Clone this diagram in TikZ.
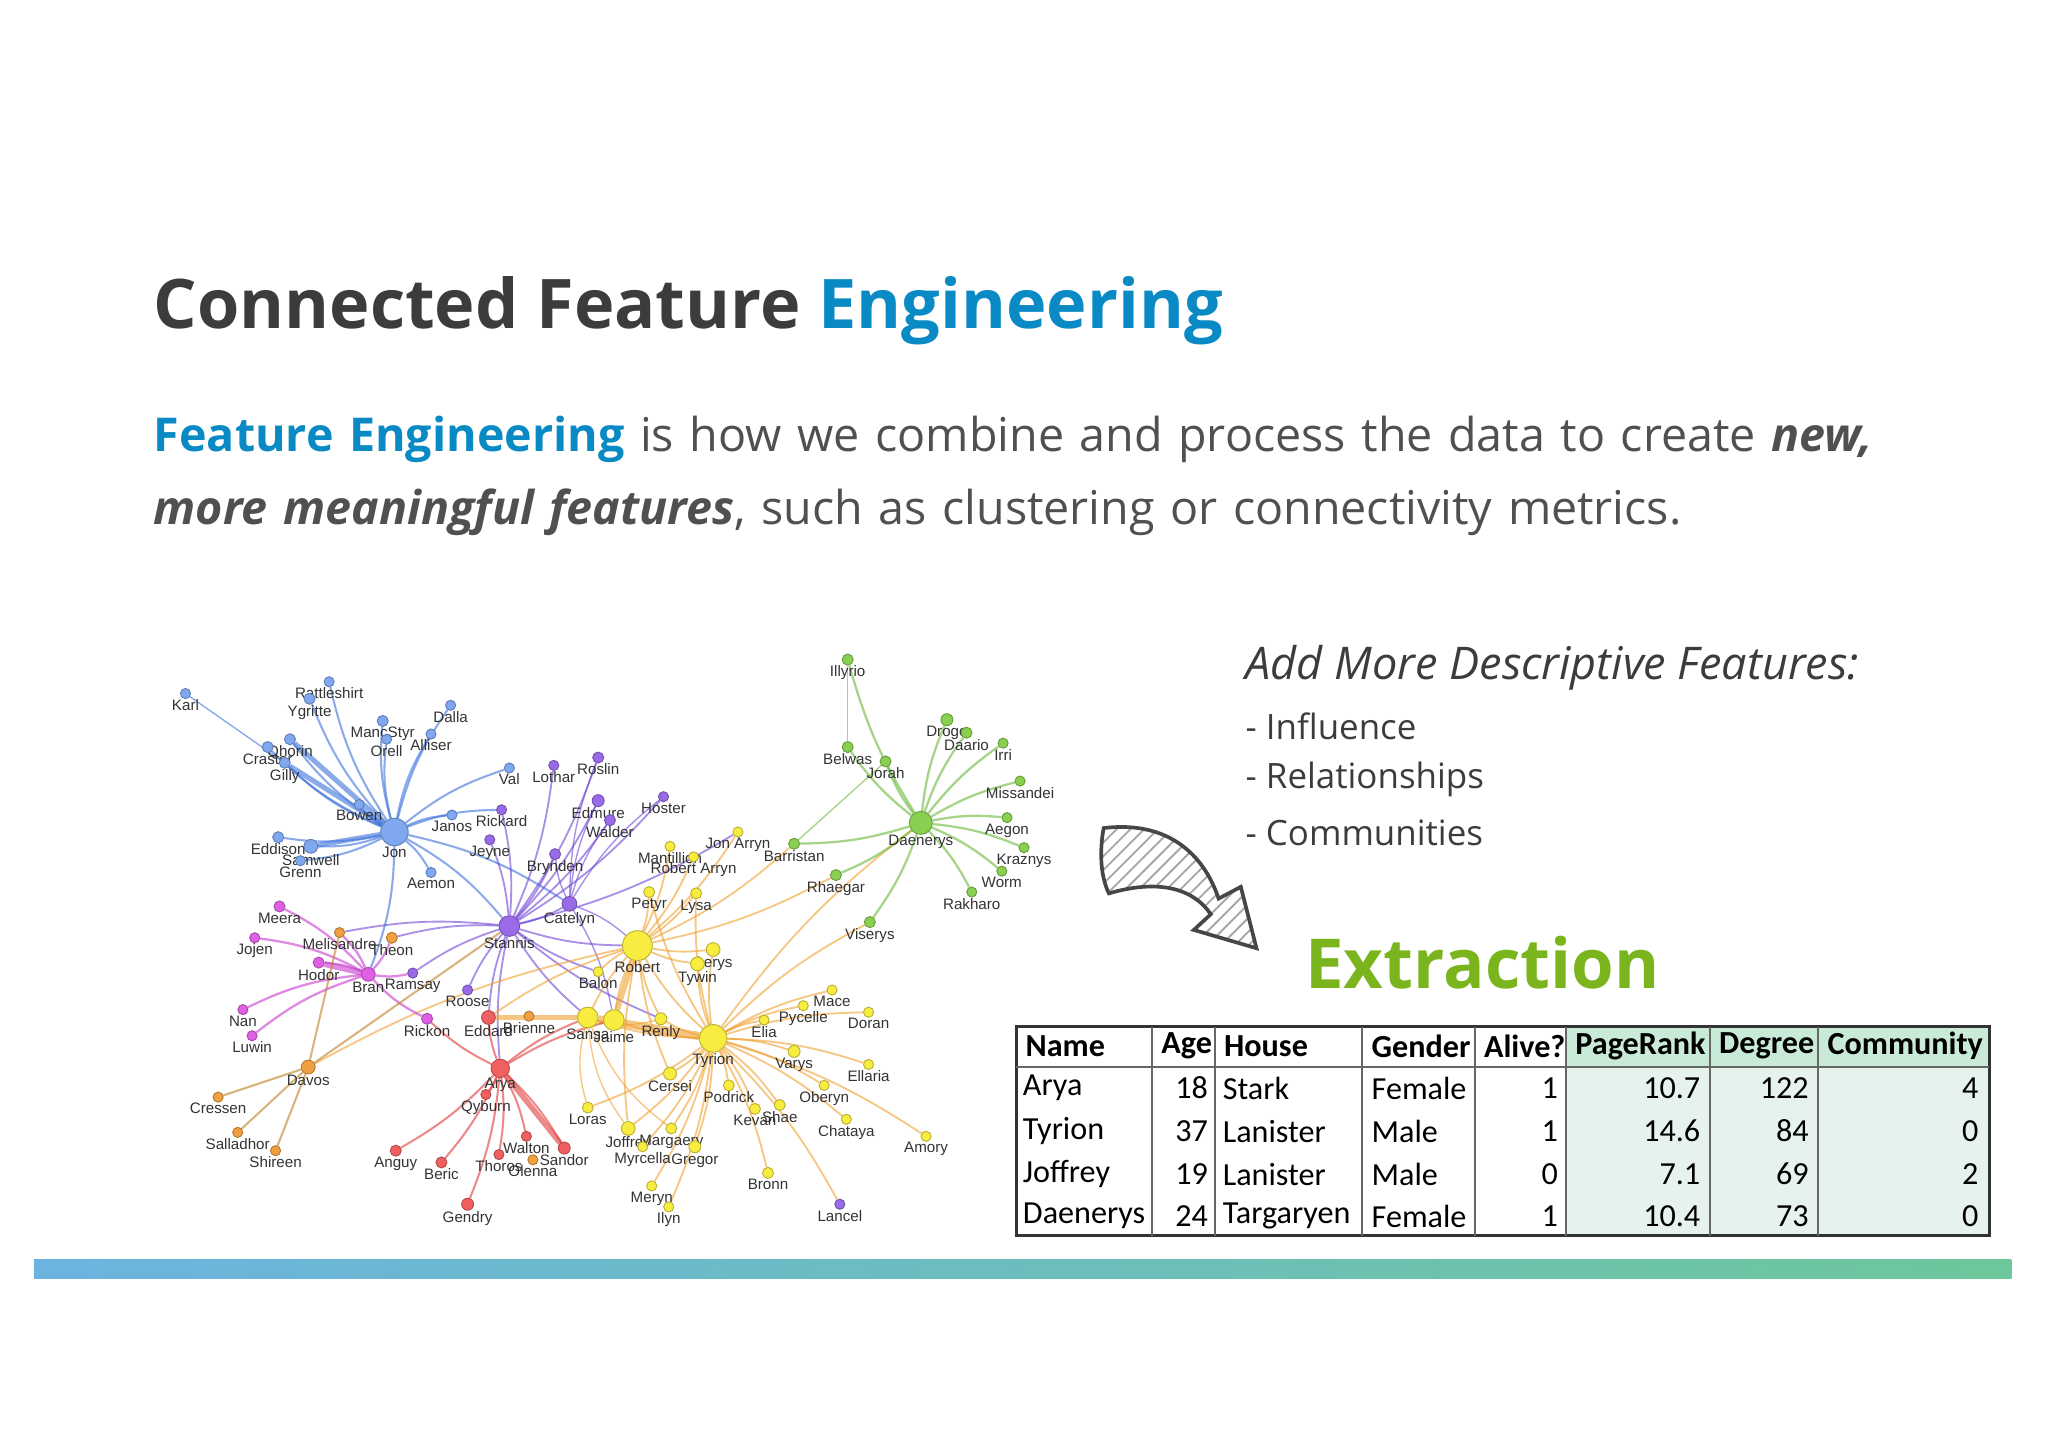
\documentclass[tikz,border=0pt]{standalone}
\usepackage{fontspec}
\setmainfont{Open Sans}
\newfontfamily\lblfont{Liberation Sans}
\newfontfamily\calfont{Carlito}
\usetikzlibrary{patterns}
\pgfdeclarelayer{bg}\pgfsetlayers{bg,main}
\definecolor{ttl}{HTML}{3C3C3C}
\definecolor{tblue}{HTML}{0A8AC4}
\definecolor{xgreen}{HTML}{7AB51D}
\definecolor{nB}{HTML}{7FA8F0}\definecolor{eB}{HTML}{3E72DC}
\definecolor{nP}{HTML}{9A6BE8}\definecolor{eP}{HTML}{7044D6}
\definecolor{nM}{HTML}{E060E4}\definecolor{eM}{HTML}{C83CD0}
\definecolor{nR}{HTML}{F06060}\definecolor{eR}{HTML}{E03A3A}
\definecolor{nO}{HTML}{F0A040}\definecolor{eO}{HTML}{F0A030}
\definecolor{nY}{HTML}{F8EC40}
\definecolor{nG}{HTML}{8AD050}\definecolor{eG}{HTML}{6AB838}
\definecolor{mint}{HTML}{E6F3EC}\definecolor{mintH}{HTML}{C8EAD6}
\definecolor{barL}{HTML}{6BB4E0}\definecolor{barR}{HTML}{6CC79A}
\tikzset{
 nd/.style={circle,inner sep=0pt,minimum size=#1},
 lbl/.style={font=\lblfont\fontsize{3.3}{4}\selectfont,inner sep=0.5pt,text=black!80},
 ed/.style={draw=#1,opacity=0.6,line width=0.3pt},
 cell/.style={font=\calfont\fontsize{7}{8}\selectfont,inner sep=1pt},
 hcell/.style={font=\calfont\bfseries\fontsize{7}{8}\selectfont,inner sep=1pt},
 feat/.style={font=\fontsize{7.6}{9}\selectfont,text=ttl,anchor=west,inner sep=0pt}
}
\begin{document}
\begin{tikzpicture}[x=0.01cm,y=-0.01cm]
\useasboundingbox (0,0) rectangle (1568,1110);
% title
\node[anchor=west,inner sep=0pt,font=\bfseries\fontsize{14.9}{17}\selectfont] (title) at (117,238) {\textcolor{ttl}{Connected Feature} \textcolor{tblue}{Engineering}};
\node[anchor=north west,inner sep=0pt,text width=14cm,font=\fontsize{10.15}{15.8}\selectfont,text=ttl!90] (body) at (117,318)
 {\textcolor{tblue}{\bfseries Feature Engineering} is how we combine and process the data to create \textbf{\itshape new,}\\ \textbf{\itshape more meaningful features}, such as clustering or connectivity metrics.\par};
% features
\node[feat,font=\itshape\fontsize{9.8}{11}\selectfont] (addf) at (953,511) {Add More Descriptive Features:};
\node[feat] (f1) at (953,556) {- Influence};
\node[feat] (f2) at (953,597) {- Relationships};
\node[feat] (f3) at (953,638) {- Communities};
\node[font=\bfseries\fontsize{15}{18}\selectfont,text=xgreen,inner sep=0pt] (extr) at (1135,737) {Extraction};
% arrow
\path[pattern=north east lines,pattern color=gray!70,draw=gray!55!black,line width=0.8pt]
 (845,634) .. controls (895,628) and (922,655) .. (933,688) -- (950,679) -- (962,726) -- (914,712) -- (927,700)
 .. controls (915,682) and (890,672) .. (849,684) .. controls (842,670) and (842,650) .. (845,634) -- cycle;
% network nodes
\foreach \id/\x/\y/\c/\s/\t in {
Karl/142/531/nB/2.2pt/Karl, Rattleshirt/252/522/nB/2.2pt/Rattleshirt, Ygritte/237/535/nB/2.4pt/Ygritte,
Dalla/345/540/nB/2.2pt/Dalla, MancStyr/293/552/nB/2.4pt/MancStyr, Qhorin/222/566/nB/2.4pt/Qhorin,
Allister/330/562/nB/2.2pt/Alliser, Craster/205/572/nB/2.4pt/Craster, Orell/296/566/nB/2.2pt/Orell,
Gilly/218/584/nB/2.4pt/Gilly, Val/390/588/nB/2.2pt/Val, Bowen/275/616/nB/2.2pt/Bowen,
Jon/302/637/nB/6pt/Jon, Eddison/213/641/nB/2.4pt/Eddison, Samwell/238/648/nB/3pt/Samwell,
Grenn/230/659/nB/2.2pt/Grenn, Aemon/330/668/nB/2.2pt/Aemon, Janos/346/624/nB/2.2pt/Janos,
Roslin/458/580/nP/2.4pt/Roslin, Lothar/424/586/nP/2.2pt/Lothar, Edmure/458/613/nP/2.6pt/Edmure,
Hoster/508/610/nP/2.2pt/Hoster, Rickard/384/620/nP/2.2pt/Rickard, Walder/467/628/nP/2.4pt/Walder,
Jeyne/375/643/nP/2.2pt/Jeyne, Brynden/425/654/nP/2.4pt/Brynden, Catelyn/436/692/nP/3.2pt/Catelyn,
Stannis/390/709/nP/4.5pt/Stannis, Theon/300/718/nO/2.4pt/Theon, Ramsay/316/745/nP/2.2pt/Ramsay,
Roose/358/758/nP/2.2pt/Roose,
Meera/214/694/nM/2.4pt/Meera, Jojen/195/718/nM/2.2pt/Jojen, Melisandre/260/714/nO/2.2pt/Melisandre,
Hodor/244/737/nM/2.4pt/Hodor, Bran/282/746/nM/3pt/Bran, Nan/186/773/nM/2.2pt/Nan,
Luwin/193/793/nM/2.2pt/Luwin, Rickon/327/780/nM/2.4pt/Rickon,
Eddard/374/779/nR/3pt/Eddard, Arya/383/818/nR/4pt/Arya, Qyburn/372/838/nR/2.2pt/Qyburn,
Anguy/303/881/nR/2.4pt/Anguy, Beric/338/890/nR/2.4pt/Beric, Thoros/382/884/nR/2.2pt/Thoros,
Walton/403/870/nR/2.2pt/Walton, Gendry/358/922/nR/2.6pt/Gendry, Sandor/432/879/nR/2.6pt/Sandor,
Olenna/408/888/nO/2.2pt/Olenna,
Davos/236/817/nO/3pt/Davos, Cressen/167/840/nO/2.2pt/Cressen, Salladhor/182/867/nO/2.2pt/Salladhor,
Shireen/211/881/nO/2.2pt/Shireen, Brienne/405/778/nO/2.2pt/Brienne, Sansa/450/779/nY/4.5pt/Sansa,
Jaime/470/781/nY/4.5pt/Jaime, Renly/506/780/nY/2.6pt/Renly, Tyrion/546/795/nY/6pt/Tyrion,
Robert/488/724/nY/6.5pt/Robert, Balon/458/744/nY/2.2pt/Balon, Petyr/497/683/nY/2.4pt/Petyr,
Lysa/533/684/nY/2.4pt/Lysa, Aerys/546/727/nY/3pt/Aerys, Tywin/534/738/nY/3pt/Tywin,
Cersei/513/822/nY/2.8pt/Cersei, Loras/450/848/nY/2.4pt/Loras, Podrick/558/831/nY/2.4pt/Podrick,
Kevan/578/849/nY/2.4pt/Kevan, Shae/597/846/nY/2.4pt/Shae, Oberyn/631/831/nY/2.2pt/Oberyn,
Elia/585/781/nY/2.2pt/Elia, Pycelle/615/770/nY/2.2pt/Pycelle, Varys/608/805/nY/2.6pt/Varys,
Mace/637/758/nY/2.2pt/Mace, Doran/665/775/nY/2.2pt/Doran, Ellaria/665/815/nY/2.2pt/Ellaria,
Chataya/648/857/nY/2.2pt/Chataya, Amory/709/870/nY/2.2pt/Amory, Joffrey/481/864/nY/3pt/Joffrey,
Margaery/514/864/nY/2.4pt/Margaery, Myrcella/492/878/nY/2.2pt/Myrcella, Gregor/532/878/nY/2.6pt/Gregor,
Meryn/499/908/nY/2.2pt/Meryn, Ilyn/512/924/nY/2.2pt/Ilyn, Bronn/588/898/nY/2.4pt/Bronn,
Lancel/643/922/nP/2.2pt/Lancel, JonArryn/565/637/nY/2.2pt/Jon Arryn, Mantillion/513/648/nY/2.2pt/Mantillion,
RobertArryn/531/656/nY/2.2pt/Robert Arryn,
Illyrio/649/505/nG/2.4pt/Illyrio, Drogo/725/551/nG/2.6pt/Drogo, Daario/740/561/nG/2.4pt/Daario,
Irri/768/569/nG/2.2pt/Irri, Belwas/649/572/nG/2.4pt/Belwas, Jorah/678/583/nG/2.4pt/Jorah,
Missandei/781/598/nG/2.2pt/Missandei, Barristan/608/646/nG/2.4pt/Barristan, Daenerys/705/630/nG/5pt/Daenerys,
Aegon/771/626/nG/2.2pt/Aegon, Kraznys/784/649/nG/2.2pt/Kraznys, Rhaegar/640/670/nG/2.4pt/Rhaegar,
Worm/767/667/nG/2.2pt/Worm, Rakharo/744/683/nG/2.2pt/Rakharo, Viserys/666/706/nG/2.4pt/Viserys}
{\node[nd=\s,fill=\c,draw=\c!75!black,line width=0.2pt,label={[lbl,yshift=0.6pt]below:\t}] (\id) at (\x,\y) {};}
\begin{pgfonlayer}{bg}
\foreach \t in {Rattleshirt,Ygritte,MancStyr,Qhorin,Craster,Gilly,Orell,Bowen,Eddison,Samwell,Grenn,Aemon,Janos,Val,Dalla,Allister,Stannis,Bran,Rickard,Catelyn}
 \draw[ed=eB,line width=0.45pt] (Jon) to[bend left=10] (\t);
\draw[ed=eB] (Karl) -- (Gilly);
\foreach \t in {Samwell,Gilly,Qhorin} \draw[ed=eB,line width=1.1pt] (Jon) -- (\t);
\foreach \t in {Roslin,Lothar,Edmure,Walder,Catelyn,Rickard,Jeyne,Brynden,Theon,Ramsay,Roose,Hoster,Renly,Balon,Arya,Sansa,Eddard,Robert,Melisandre,JonArryn}
 \draw[ed=eP,line width=0.4pt] (Stannis) to[bend right=8] (\t);
\foreach \t in {Edmure,Walder,Roslin,Hoster,Brynden,Jaime,Robert} \draw[ed=eP] (Catelyn) to[bend left=10] (\t);
\foreach \t in {Sansa,Jaime,Cersei,Robert,Podrick,Kevan,Shae,Oberyn,Varys,Pycelle,Bronn,Tywin,Joffrey,Margaery,Gregor,Lancel,Amory,Chataya,Ellaria,Doran,Mace,Elia,Aerys,Lysa,Petyr,Loras,Myrcella,Meryn,Ilyn,Renly,Daenerys,Viserys}
 \draw[ed=eO,line width=0.4pt] (Tyrion) to[bend left=8] (\t);
\foreach \t in {JonArryn,Mantillion,Petyr,Lysa,Sansa,Jaime,Eddard,Aerys,Tywin,Renly,Cersei,Barristan,Balon,Davos,Joffrey,Rhaegar,RobertArryn}
 \draw[ed=eO,line width=0.4pt] (Robert) to[bend right=8] (\t);
\draw[ed=eO,line width=1.8pt] (Sansa) -- (Tyrion); \draw[ed=eO,line width=1.2pt] (Jaime) -- (Robert);
\draw[ed=eO,line width=1.2pt] (Eddard) -- (Sansa);
\foreach \t in {Eddard,Qyburn,Anguy,Beric,Thoros,Walton,Gendry,Sandor,Sansa,Rickon,Jaime}
 \draw[ed=eR,line width=0.45pt] (Arya) to[bend left=8] (\t);
\draw[ed=eR,line width=1.2pt] (Arya) -- (Sandor);
\foreach \t in {Illyrio,Drogo,Daario,Irri,Belwas,Jorah,Missandei,Barristan,Aegon,Kraznys,Rhaegar,Worm,Rakharo,Viserys}
 \draw[ed=eG,line width=0.5pt] (Daenerys) to[bend left=8] (\t);
\draw[ed=eG] (Illyrio) -- (Belwas); \draw[ed=eG] (Barristan) -- (Jorah);
\foreach \t in {Meera,Jojen,Hodor,Nan,Luwin,Rickon,Melisandre,Theon,Ramsay}
 \draw[ed=eM,line width=0.5pt] (Bran) to[bend right=10] (\t);
\draw[ed=eM,line width=1.3pt] (Bran) -- (Hodor);
\foreach \t in {Cressen,Salladhor,Shireen,Stannis,Melisandre}
 \draw[ed=eO!80!black,line width=0.45pt] (Davos) -- (\t);
\foreach \t in {Joffrey,Renly,Loras,Margaery} \draw[ed=eO] (Sansa) to[bend right=15] (\t);
\end{pgfonlayer}
% table
\fill[mintH] (1199,786) rectangle (1523,817);
\fill[mint] (1199,817) rectangle (1523,946);
\draw[line width=0.6pt,black!80] (778,786) rectangle (1523,946);
\foreach \c in {882,930,1043,1129,1199,1309,1392}
 \draw[black!60,line width=0.4pt] (\c,786) -- (\c,946);
\draw[black!60,line width=0.4pt] (778,817) -- (1523,817);
\foreach \h/\x in {Name/781,Age/885,House/933,Gender/1046,Alive?/1132,PageRank/1202,Degree/1312,Community/1395}
 \node[hcell,anchor=west] (h\h) at (\x,801) {\h};
\foreach \r/\y/\n/\a/\ho/\g/\al/\p/\d/\cm in {
 1/833/Arya/18/Stark/Female/1/10.7/122/4,
 2/866/Tyrion/37/Lanister/Male/1/14.6/84/0,
 3/899/Joffrey/19/Lanister/Male/0/7.1/69/2,
 4/931/Daenerys/24/Targaryen/Female/1/10.4/73/0}{
 \node[cell,anchor=west] (n\r) at (779,\y) {\n};
 \node[cell,anchor=east] (a\r) at (929,\y) {\a};
 \node[cell,anchor=west] (ho\r) at (932,\y) {\ho};
 \node[cell,anchor=west] (g\r) at (1046,\y) {\g};
 \node[cell,anchor=east] (al\r) at (1197,\y) {\al};
 \node[cell,anchor=east] (p\r) at (1306,\y) {\p};
 \node[cell,anchor=east] (d\r) at (1389,\y) {\d};
 \node[cell,anchor=east] (c\r) at (1519,\y) {\cm};
}
% bottom bar
\shade[left color=barL,right color=barR] (26,964) rectangle (1540,979);
\end{tikzpicture}
\end{document}
